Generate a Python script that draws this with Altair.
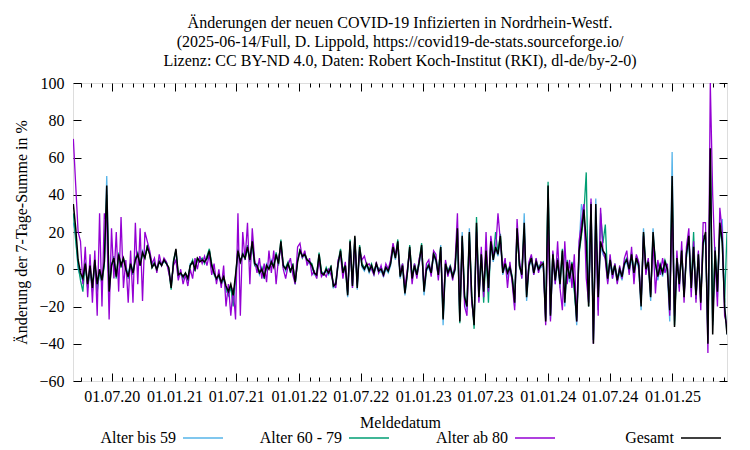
import altair as alt
import pandas as pd

# ---------------- data (weekly readings, first value 2020-03-10) ----------------
START = "2020-03-10"
STEP = "7D"

series_names = ["Alter bis 59", "Alter 60 - 79", "Alter ab 80", "Gesamt"]
series_colors = ["#56b4e9", "#009e73", "#9400d3", "#000000"]
series_widths = [1.3, 1.3, 1.3, 1.5]

bis59 = [
    25, 18, 0, -4, -6, 2, -10, 0, -8, 3, -10,
    -2, -5, 2, 50, -10, 3, 5, -3, 7, 3, 5,
    2, -3, 4, -1, 6, 7, 3, 10, 7, 11, 9,
    2, 2, 1, 5, 3, 4, 3, 0, -9, 3, 10,
    -4, -3, -3, -3, -6, 3, 3, 1, 5, 5, 4,
    5, 5, 9, 1, -3, -6, -4, -8, -5, -12, -13,
    -10, -18, -5, 8, 5, 7, 7, 10, 6, 12, 2,
    3, -3, 1, -5, 3, 1, 5, 2, 7, 4, 13,
    3, -1, 2, 0, 1, -8, 5, 9, 8, 7, 4,
    3, 1, -3, -2, 7, -3, -2, -1, -3, 0, -10,
    -9, 2, 9, -3, 1, -15, 14, -10, 16, -11, 11,
    1, -1, 2, -2, 1, -3, 2, -2, -1, -4, 0,
    -2, 2, 11, 5, 14, -5, 1, -14, -3, 11, -6,
    1, -4, 3, 12, -14, -1, 1, -3, 7, 4, -4,
    13, -30, 2, -3, 0, -5, -1, 20, -27, 20, -16,
    -22, 22, -17, -28, 23, -17, 7, -10, 8, -12, 13,
    4, 11, 7, 16, -3, 2, -4, 0, -6, -20, 20,
    3, -5, 30, -17, 1, 5, -3, 3, -1, 1, 2,
    -26, 44, -27, 6, -8, 4, -10, 9, -20, 3, -7,
    2, -10, -30, 12, 35, 28, 10, -18, 33, -38, 38,
    -12, 12, 8, 6, -7, 3, -5, 1, -7, -2, -6,
    2, 4, -2, 6, -4, 5, 0, -22, 22, -2, 3,
    -17, 22, 2, -6, 1, -4, 3, -2, -28, 63, -28,
    4, -10, 8, -13, 6, 15, -12, 10, -16, 6, -15,
    12, 18, -38, 60, -30, 8, -15, 20, 27, -18, -35,
]

alter60_79 = [
    30, 15, 2, -6, -12, 4, -10, 1, -12, 4, -12,
    -1, -8, 3, 40, -13, 2, 7, -5, 9, 1, 6,
    1, -5, 2, -3, 6, 9, 2, 8, 6, 13, 8,
    1, 4, -1, 4, 2, 5, 4, 0, -11, 5, 10,
    -3, -2, -5, -2, -5, 2, 5, -1, 6, 5, 6,
    3, 7, 11, 3, -2, -6, -3, -8, -5, -10, -14,
    -9, -20, -4, 11, 3, 9, 5, 13, 4, 16, 2,
    1, -1, 1, -5, 1, 1, 3, 2, 9, 2, 16,
    1, 1, 4, -2, 3, -8, 5, 11, 6, 9, 5,
    4, 3, -2, -4, 9, -1, -3, 1, -2, 2, -9,
    -7, 4, 11, -1, 3, -13, 16, -8, 17, -9, 13,
    3, 1, 2, 0, 3, -2, 3, 0, 1, -2, 2,
    -1, 4, 13, 7, 16, -3, 3, -12, -2, 13, -4,
    3, -2, 5, 14, -11, 1, 3, -1, 9, 6, -2,
    12, -26, 4, -1, 2, -3, 1, 21, -29, 17, -14,
    -19, 19, -14, -32, 28, -14, 9, -18, 11, -18, 16,
    6, 20, 9, 19, -1, 4, -1, 2, -4, -16, 21,
    1, -2, 22, -14, 3, 7, -1, 5, 1, 3, 4,
    -27, 47, -24, 9, -5, 6, -7, 11, -16, 5, -4,
    4, -12, -26, 8, 18, 30, 52, -20, 36, -38, 28,
    -22, 30, 14, 24, -6, 6, -2, 3, -5, 1, -3,
    4, 6, 1, 9, -1, 7, 3, -18, 19, 1, 5,
    -14, 18, 4, -3, 3, -1, 5, 1, -20, 45, -30,
    7, -7, 11, -14, 9, 17, -8, 20, -16, 9, -17,
    18, 17, -35, 55, -28, 12, -10, 22, 14, -18, 20,
]

ab80 = [
    70, 45, 20, 15, -8, 12, -15, 8, -18, 10, -25,
    30, -20, 30, 25, -27, 22, -5, 20, -12, 28, -10,
    5, -18, 10, -18, 25, -8, 22, -17, 20, 15, 10,
    3, 6, -2, 8, 2, 6, 4, -2, -8, 2, 5,
    -6, 0, -8, -3, -9, 0, -5, 6, 0, 7, 3,
    7, 2, 8, -3, 3, -8, 0, -10, 2, -20, -8,
    -25, -10, -27, 30, -25, 20, 5, 25, -8, 22, 5,
    -2, 6, -5, 3, -7, 10, -2, 10, -8, 6, 12,
    0, -5, 2, 6, -3, -8, 12, 14, 6, 10, 2,
    6, -3, -1, -5, 5, -4, -2, -4, 0, -3, -7,
    -10, 5, 8, -5, 4, -12, 14, -10, 16, -8, 10,
    5, 7, 2, 3, 0, -3, 4, -2, 2, -4, 3,
    0, 5, 14, 8, 12, -2, 3, -10, 0, 10, -8,
    3, -5, 6, 10, -10, 3, 5, -4, 10, 8, -6,
    10, -22, 5, -4, 2, -6, 3, 30, -24, 15, -20,
    -25, 15, -18, -28, 20, -18, 12, -15, 20, -12, 18,
    8, 10, 30, 15, 0, 6, -10, 4, -8, -22, 27,
    5, -5, 20, -12, 4, 8, -3, 6, -2, 4, 3,
    -30, 25, -28, 10, -8, 15, -10, -22, 15, -8, 5,
    -10, 8, -28, 15, 25, 35, -5, -18, 38, -40, 25,
    -25, 33, 10, 5, -8, 8, -5, 3, -8, 2, -5,
    6, 10, -3, 12, -8, 8, 4, -18, 18, -3, 6,
    -13, 15, -13, 5, -3, 6, -2, 3, -25, 35, -25,
    10, -12, 15, -18, 12, 22, -15, 15, -18, 10, -22,
    25, 25, -45, 100, 40, 5, -20, 33, 20, -25, -30,
]

gesamt = [
    35, 22, 5, -2, -5, 3, -8, 2, -10, 5, -8,
    0, -6, 4, 45, -12, 2, 6, -4, 8, 2, 6,
    0, -4, 3, -2, 5, 8, 2, 9, 6, 12, 8,
    1, 3, 0, 4, 2, 5, 3, 1, -10, 4, 11,
    -3, -2, -4, -2, -5, 2, 4, 0, 6, 4, 5,
    4, 6, 10, 2, -2, -5, -3, -7, -4, -9, -12,
    -8, -14, -3, 10, 4, 8, 6, 12, 5, 15, 3,
    2, -2, 0, -4, 2, 0, 4, 1, 8, 3, 15,
    2, 0, 3, -1, 2, -7, 4, 10, 7, 8, 5,
    4, 2, -2, -3, 8, -2, -3, 0, -2, 1, -9,
    -8, 3, 10, -2, 2, -14, 15, -9, 18, -10, 12,
    2, 0, 3, -1, 2, -2, 3, -1, 0, -3, 1,
    -1, 3, 12, 6, 15, -4, 2, -13, -2, 12, -5,
    2, -3, 4, 13, -12, 0, 2, -2, 8, 5, -3,
    12, -27, 3, -2, 1, -4, 0, 22, -28, 18, -15,
    -20, 20, -15, -30, 25, -15, 8, -12, 10, -10, 15,
    5, 12, 8, 18, -2, 3, -2, 1, -5, -18, 22,
    2, -3, 25, -15, 2, 6, -2, 4, 0, 2, 3,
    -28, 45, -25, 8, -6, 5, -8, 10, -18, 4, -5,
    3, -8, -28, 10, 20, 32, 15, -20, 35, -40, 35,
    -15, 15, 10, 8, -5, 5, -3, 2, -6, 0, -4,
    3, 5, 0, 8, -2, 6, 2, -20, 20, 0, 4,
    -15, 20, 3, -4, 2, -2, 4, 0, -22, 50, -31,
    6, -8, 10, -15, 8, 18, -10, 12, -14, 8, -18,
    14, 20, -40, 65, -35, 10, -12, 25, 15, -20, -35,
]

x_domain = ["2020-03-09", "2025-06-10"]
x_tick_dates = pd.date_range("2020-04-01", "2025-06-01", freq="MS")
y_ticks = [-60, -40, -20, 0, 20, 40, 60, 80, 100]

title_lines = [
    "Änderungen der neuen COVID-19 Infizierten in Nordrhein-Westf.",
    "(2025-06-14/Full, D. Lippold, https://covid19-de-stats.sourceforge.io/",
    "Lizenz: CC BY-ND 4.0, Daten: Robert Koch-Institut (RKI), dl-de/by-2-0)",
]
x_title = "Meldedatum"
y_title = "Änderung der 7-Tage-Summe in %"

# ---------------- chart ----------------
FONT = "Liberation Serif"


def ms(d):
    return int(pd.Timestamp(d).value // 10**6)


x_tick_ms = [ms(t) for t in x_tick_dates]
x_scale = alt.Scale(type="utc", domain=[ms(x_domain[0]), ms(x_domain[1])])
y_scale = alt.Scale(domain=[-60, 100], nice=False, zero=False)

major = "utcmonth(datum.value) % 6 == 0"
x_tick_size = {"expr": f"{major} ? -8 : -4"}

x_axis = alt.Axis(
    values=x_tick_ms,
    labelExpr=f"{major} ? utcFormat(datum.value, '%d.%m.%y') : ''",
    tickSize=x_tick_size, tickColor="black", tickWidth=1,
    labelPadding=15, labelFont=FONT, labelFontSize=16, labelColor="black",
    labelOverlap=False, labelFlush=False, domain=False, grid=False,
    title=x_title, titleFont=FONT, titleFontSize=16, titleFontWeight="normal",
    titleColor="black", titlePadding=6,
)
y_axis = alt.Axis(
    values=y_ticks, tickSize={"expr": "-8"}, tickColor="black", tickWidth=1,
    labelPadding=17, labelFont=FONT, labelFontSize=16, labelColor="black",
    labelFlush=False, domain=False, grid=False,
    title=y_title, titleFont=FONT, titleFontSize=16, titleFontWeight="normal",
    titleColor="black", titlePadding=9,
)

legend = alt.Legend(
    orient="none", legendX=109, legendY=334, direction="horizontal", columns=4,
    title=None, labelFont=FONT, labelFontSize=16, labelColor="black",
    labelAlign="right", labelOffset={"expr": "-48"}, labelLimit=0,
    symbolType="stroke", symbolSize=1600, symbolStrokeWidth=1.5,
    gridAlign="all", columnPadding=33,
)
color = alt.Color(
    "serie:N",
    scale=alt.Scale(domain=series_names, range=series_colors),
    legend=legend,
)

layers = []
for name, vals, sw in zip(series_names, [bis59, alter60_79, ab80, gesamt], series_widths):
    dates = pd.date_range(START, periods=len(vals), freq=STEP)
    df = pd.DataFrame({"datum": dates.strftime("%Y-%m-%d"), "wert": vals, "serie": name})
    layers.append(
        alt.Chart(df).mark_line(strokeWidth=sw, clip=True).encode(
            x=alt.X("datum:T", scale=x_scale, axis=x_axis),
            y=alt.Y("wert:Q", scale=y_scale, axis=y_axis),
            color=color,
        )
    )
lines = alt.layer(*layers)

mirror_df = pd.DataFrame({"datum": x_domain, "wert": [-60, 100]})
mirror = alt.Chart(mirror_df).mark_point(opacity=0).encode(
    x=alt.X("datum:T", scale=x_scale, axis=alt.Axis(
        orient="top", values=x_tick_ms, labels=False, domain=False, grid=False,
        tickSize=x_tick_size, tickColor="black", tickWidth=1, title=None)),
    y=alt.Y("wert:Q", scale=y_scale, axis=alt.Axis(
        orient="right", values=y_ticks, labels=False, domain=False, grid=False,
        tickSize={"expr": "-8"}, tickColor="black", tickWidth=1, title=None)),
)

chart = alt.layer(lines, mirror).resolve_axis(
    x="independent", y="independent"
).properties(
    width=654, height=298,
    padding={"left": 5, "top": 7, "right": 5, "bottom": 5},
    title=alt.TitleParams(
        text=title_lines, font=FONT, fontSize=16, fontWeight="normal",
        color="black", anchor="middle", lineHeight=19, offset=6,
    ),
).configure_view(stroke="black", strokeWidth=1).configure(background="white")

chart.save("out.html", embed_options={"renderer": "svg", "actions": False})
